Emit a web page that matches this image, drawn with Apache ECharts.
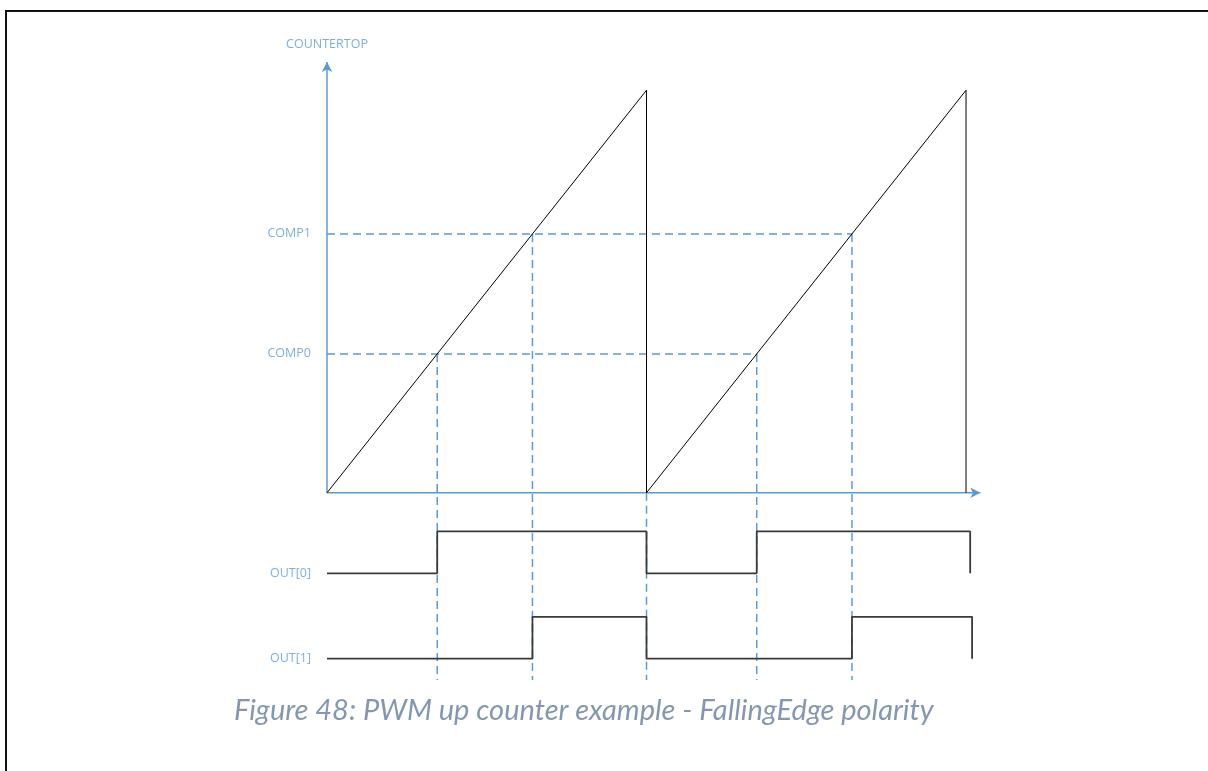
<!DOCTYPE html>
<html>
<head>
<meta charset="utf-8">
<script src="https://cdn.jsdelivr.net/npm/echarts@6/dist/echarts.min.js"></script>
<style>
html,body{margin:0;padding:0;background:#fff;}
#frame{position:absolute;left:5px;top:10px;width:1203px;height:761px;border-top:2px solid #111;border-left:2px solid #111;box-sizing:border-box;}
#chart{position:absolute;left:0;top:0;width:1208px;height:771px;}
</style>
</head>
<body>
<div id="frame"></div>
<div id="chart"></div>
<script>
// ---- data (time units: one counter period = 10; counter units: COUNTERTOP = 100) ----
const counterTop = 100;
const comp0 = 34.5;
const comp1 = 64.3;
const sawtooth = [[0, 0], [10, 100], [10, 0], [20, 100], [20, 0]];
const comp0Hits = [3.45, 13.45];     // where the ramp crosses COMP0
const comp1Hits = [6.43, 16.43];     // where the ramp crosses COMP1
const periodEdges = [10];            // counter wrap
const out0Levels = { low: -20, high: -9.6 };
const out1Levels = { low: -41.2, high: -30.8 };
const out0 = [[0, -20], [3.45, -20], [3.45, -9.6], [10, -9.6], [10, -20], [13.45, -20], [13.45, -9.6], [20.13, -9.6], [20.13, -20]];
const out1 = [[0, -41.2], [6.43, -41.2], [6.43, -30.8], [10, -30.8], [10, -41.2], [16.43, -41.2], [16.43, -30.8], [20.19, -30.8], [20.19, -41.2]];
const guideBottom = -46.5;
const xAxisEnd = 20.45;
const yAxisEnd = 107;
const labelsLeft = [
  { name: 'COMP1', value: [0, comp1] },
  { name: 'COMP0', value: [0, comp0] },
  { name: 'OUT[0]', value: [0, out0Levels.low] },
  { name: 'OUT[1]', value: [0, out1Levels.low] }
];
const caption = 'Figure 48: PWM up counter example - FallingEdge polarity';

// ---- styles ----
const BLUE = '#5b9bd5';
const FONT = "'Open Sans', 'Noto Sans', sans-serif";

const dashStyle = { color: BLUE, width: 1.5, type: [8, 5] };
const series = [];

// horizontal COMP guides
series.push({ type: 'line', data: [[0, comp1], [comp1Hits[1], comp1]], symbol: 'none', lineStyle: dashStyle, z: 1, silent: true });
series.push({ type: 'line', data: [[0, comp0], [comp0Hits[1], comp0]], symbol: 'none', lineStyle: dashStyle, z: 1, silent: true });
// vertical guides
comp0Hits.forEach(t => series.push({ type: 'line', data: [[t, comp0], [t, guideBottom]], symbol: 'none', lineStyle: dashStyle, z: 1, silent: true }));
comp1Hits.forEach(t => series.push({ type: 'line', data: [[t, comp1], [t, guideBottom]], symbol: 'none', lineStyle: dashStyle, z: 1, silent: true }));
periodEdges.forEach(t => series.push({ type: 'line', data: [[t, 0], [t, guideBottom]], symbol: 'none', lineStyle: dashStyle, z: 1, silent: true }));

// axes drawn as arrows
series.push({
  type: 'line', z: 3, silent: true,
  data: [{ value: [0, 0], symbol: 'none' }, { value: [xAxisEnd, 0], symbol: 'arrow', symbolSize: [8, 10], symbolRotate: -90 }],
  lineStyle: { color: BLUE, width: 1.5 }, itemStyle: { color: BLUE }, showSymbol: true
});
series.push({
  type: 'line', z: 3, silent: true,
  data: [{ value: [0, 0], symbol: 'none' }, { value: [0, yAxisEnd], symbol: 'arrow', symbolSize: [8, 10] }],
  lineStyle: { color: BLUE, width: 1.5 }, itemStyle: { color: BLUE }, showSymbol: true
});

// sawtooth counter
series.push({ type: 'line', data: sawtooth, symbol: 'none', lineStyle: { color: '#000', width: 1 }, z: 4, silent: true });
// outputs
series.push({ type: 'line', data: out0, symbol: 'none', lineStyle: { color: '#3a3a3a', width: 1.8 }, z: 4, silent: true });
series.push({ type: 'line', data: out1, symbol: 'none', lineStyle: { color: '#3a3a3a', width: 1.8 }, z: 4, silent: true });

// text labels
series.push({
  type: 'scatter', symbolSize: 0, silent: true, z: 5,
  data: labelsLeft,
  label: { show: true, position: 'left', distance: 16, formatter: p => p.name, color: BLUE, fontSize: 12.5, fontFamily: FONT }
});
series.push({
  type: 'scatter', symbolSize: 0, silent: true, z: 5,
  data: [{ name: 'COUNTERTOP', value: [0, yAxisEnd] }],
  label: { show: true, position: 'top', distance: 11, formatter: p => p.name, color: BLUE, fontSize: 12.5, fontFamily: FONT }
});

const chart = echarts.init(document.getElementById('chart'), null, { renderer: 'canvas' });
chart.setOption({
  animation: false,
  title: {
    text: caption, left: 229, top: 691,
    textStyle: { fontStyle: 'italic', fontWeight: 'normal', fontSize: 29, color: '#8597b0', fontFamily: "Lato, 'Open Sans', sans-serif" }
  },
  grid: { left: 327, top: 58, width: 655, height: 624 },
  xAxis: { type: 'value', min: 0, max: 20.5, show: false },
  yAxis: { type: 'value', min: -47, max: 108, show: false },
  series: series
});
</script>
</body>
</html>
